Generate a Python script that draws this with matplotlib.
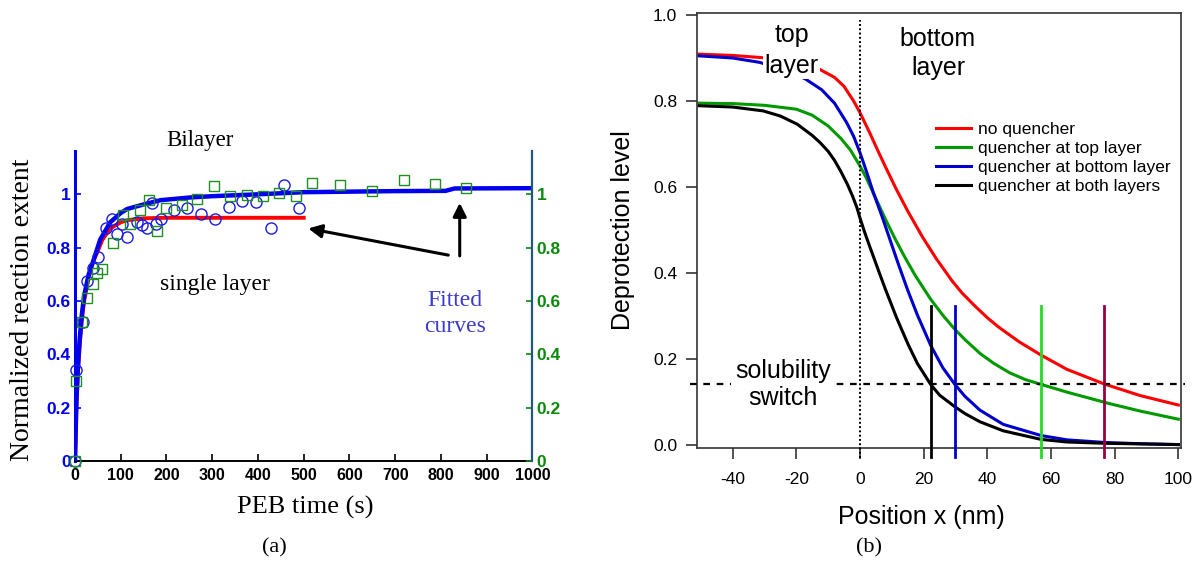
import matplotlib.pyplot as plt

plt.rcParams['axes.unicode_minus'] = False

# ---- panel (a): PEB time data ----
circ_t = [0, 3, 17, 27, 39, 50, 68, 81, 92, 103, 114, 136, 147, 158, 169, 176, 187,
          216, 245, 276, 305, 337, 366, 396, 429, 456, 489]
circ_y = [0, 0.343, 0.52, 0.674, 0.725, 0.765, 0.872, 0.907, 0.853, 0.89, 0.84, 0.897,
          0.884, 0.872, 0.966, 0.887, 0.909, 0.941, 0.947, 0.926, 0.907, 0.951, 0.976,
          0.972, 0.872, 1.035, 0.947]
sq_t = [0, 3, 15, 27, 39, 49, 59, 84, 106, 121, 143, 161, 180, 198, 233, 267, 304,
        339, 377, 410, 447, 483, 517, 579, 650, 719, 788, 855]
sq_y = [0, 0.30, 0.52, 0.61, 0.664, 0.706, 0.721, 0.818, 0.922, 0.887, 0.941, 0.979,
        0.861, 0.95, 0.96, 0.981, 1.031, 0.995, 0.997, 0.994, 1.006, 0.994, 1.042,
        1.034, 1.013, 1.052, 1.04, 1.025]
fit_bi_t = [0, 3, 6, 10, 15, 20, 30, 40, 55, 77, 100, 114, 150, 187, 250, 300, 400,
            500, 600, 700, 810, 830, 1000]
fit_bi_y = [0, 0.22, 0.34, 0.45, 0.55, 0.62, 0.70, 0.75, 0.83, 0.895, 0.93, 0.945,
            0.962, 0.978, 0.988, 0.993, 1.0, 1.008, 1.01, 1.012, 1.013, 1.022, 1.023]
fit_single_t = [0, 3, 6, 10, 15, 20, 30, 40, 48, 60, 77, 100, 114, 150, 200, 300, 500]
fit_single_y = [0, 0.2, 0.32, 0.43, 0.53, 0.6, 0.69, 0.75, 0.78, 0.83, 0.872, 0.895,
                0.903, 0.91, 0.912, 0.912, 0.912]
left_ticks = [0, 0.2, 0.4, 0.6, 0.8, 1]
left_tick_labels = ['0', '0.2', '0.4', '0.6', '0.8', '1']

# ---- panel (b): deprotection profiles ----
red_x = [-50.5, -40, -31, -22, -16, -12.5, -8, -5, -2, 0, 3, 5.4, 8, 11.4, 15, 19.7,
         24, 28.8, 32, 36, 40, 43.6, 50, 56.9, 65, 76.7, 88, 100]
red_y = [0.909, 0.906, 0.901, 0.893, 0.882, 0.873, 0.855, 0.834, 0.80, 0.773, 0.727,
         0.688, 0.647, 0.595, 0.544, 0.483, 0.433, 0.383, 0.354, 0.324, 0.296, 0.274,
         0.24, 0.209, 0.176, 0.142, 0.115, 0.093]
green_x = [-50.5, -40, -30, -20, -15, -10, -6, -3, 0, 2, 5, 8, 11, 14, 17.3, 22.2, 26,
           29.8, 33, 37.7, 42, 47, 52, 56.9, 65, 72, 78.5, 88, 100]
green_y = [0.795, 0.794, 0.79, 0.781, 0.767, 0.742, 0.713, 0.686, 0.649, 0.621, 0.573,
           0.525, 0.48, 0.438, 0.395, 0.339, 0.302, 0.269, 0.245, 0.213, 0.19, 0.168,
           0.152, 0.141, 0.123, 0.109, 0.096, 0.079, 0.060]
blue_x = [-50.5, -40, -31.6, -25, -17.3, -12, -8, -4.2, -2, 0, 2, 4.2, 7, 9.5, 12,
          15, 18, 22.2, 26, 29.8, 33, 37.7, 45, 56.9, 65, 76.7, 88, 100]
blue_y = [0.905, 0.90, 0.89, 0.875, 0.852, 0.826, 0.795, 0.75, 0.718, 0.68, 0.637,
          0.587, 0.53, 0.476, 0.422, 0.36, 0.303, 0.232, 0.18, 0.141, 0.113, 0.081,
          0.048, 0.022, 0.012, 0.006, 0.003, 0.001]
black_x = [-50.5, -40, -30.4, -25, -19.7, -15, -12.5, -10, -8, -6, -4, -2.4, -1, 0,
           1.5, 3, 5.8, 8, 11.5, 15, 18, 22.2, 25, 29.8, 33, 37.7, 45, 56.9, 65, 76.7,
           100]
black_y = [0.789, 0.786, 0.777, 0.765, 0.746, 0.72, 0.703, 0.683, 0.662, 0.636, 0.607,
           0.58, 0.553, 0.528, 0.494, 0.463, 0.406, 0.362, 0.296, 0.236, 0.19, 0.141,
           0.116, 0.089, 0.073, 0.054, 0.033, 0.013, 0.007, 0.004, 0.001]
switch_level = 0.141
switch_x = [22.2, 29.8, 56.9, 76.7]
switch_colors = ['black', '#0000cc', '#22dd22', '#990044']
labels = ['no quencher', 'quencher at top layer', 'quencher at bottom layer',
          'quencher at both layers']

fig = plt.figure(figsize=(11.96, 5.63), dpi=100)

# ================= left panel =================
serif = 'Liberation Serif'
sans = 'Liberation Sans'
ax1 = fig.add_axes([0.0627, 0.1812, 0.3825, 0.5511])
ax1.set_xlim(0, 1000)
ax1.set_ylim(0, 1.1635)
ax1.plot(fit_single_t, fit_single_y, color='#ff0000', lw=2.8, zorder=3)
ax1.plot(fit_bi_t, fit_bi_y, color='#0000ee', lw=3.2, zorder=4)
ax1.plot(circ_t, circ_y, 'o', mfc='none', mec='#1a1ae6', ms=8, mew=1.0, zorder=5,
         clip_on=False)
ax1.plot(sq_t, sq_y, 's', mfc='none', mec='#1f8f1f', ms=7.5, mew=1.0, zorder=5,
         clip_on=False)

ax1.spines['top'].set_visible(False)
ax1.spines['right'].set_visible(False)
ax1.spines['left'].set_color('#0000ee')
ax1.spines['left'].set_linewidth(2.2)
ax1.spines['bottom'].set_linewidth(1.4)
ax1.set_xticks(range(0, 1001, 100))
ax1.set_yticks(left_ticks)
ax1.set_yticklabels(left_tick_labels)
ax1.tick_params(axis='x', direction='in', length=5, width=1.2, pad=5, labelsize=11.5)
ax1.tick_params(axis='y', direction='in', length=4, width=1.2, colors='#0000ee',
                pad=3, labelsize=12.5)
for lab in ax1.get_xticklabels() + ax1.get_yticklabels():
    lab.set_fontfamily(sans)
    lab.set_fontweight('bold')

ax2 = ax1.twinx()
ax2.set_ylim(0, 1.1635)
ax2.set_yticks(left_ticks)
ax2.set_yticklabels(left_tick_labels)
for s in ['top', 'left', 'bottom']:
    ax2.spines[s].set_visible(False)
ax2.spines['right'].set_color('#1f5a7a')
ax2.spines['right'].set_linewidth(1.6)
ax2.tick_params(axis='y', direction='in', length=4, width=1.2, colors='#0a8a0a',
                pad=3, labelsize=12.5)
for lab in ax2.get_yticklabels():
    lab.set_fontfamily(sans)
    lab.set_fontweight('bold')

ax1.text(273, 1.20, 'Bilayer', family=serif, fontsize=16.5, ha='center', va='center',
         clip_on=False)
ax1.text(306, 0.662, 'single layer', family=serif, fontsize=17, ha='center',
         va='center')
ax1.text(830, 0.553, 'Fitted\ncurves', family=serif, fontsize=17, ha='center',
         va='center', color='#3c3ccc', linespacing=1.35)
ax1.annotate('', xy=(510, 0.872), xytext=(816, 0.772),
             arrowprops=dict(arrowstyle='-|>', lw=2.2, color='black',
                             mutation_scale=20, shrinkA=0, shrinkB=0))
ax1.annotate('', xy=(841, 0.968), xytext=(841, 0.769),
             arrowprops=dict(arrowstyle='-|>', lw=2.2, color='black',
                             mutation_scale=20, shrinkA=0, shrinkB=0))

fig.text(0.0185, 0.449, 'Normalized reaction extent', family=serif, fontsize=20,
         rotation=90, ha='center', va='center')
fig.text(0.255, 0.0995, 'PEB time (s)', family=serif, fontsize=19, ha='center',
         va='center')
fig.text(0.229, 0.0266, '(a)', family=serif, fontsize=16, ha='center', va='center')

# ================= right panel =================
ax = fig.add_axes([0.5825, 0.2037, 0.4047, 0.7727])
ax.set_xlim(-51.3, 100.75)
ax.set_ylim(-0.0077, 1.004)
ax.plot(red_x, red_y, color='#ff0000', lw=2.2, label=labels[0])
ax.plot(green_x, green_y, color='#009a00', lw=2.2, label=labels[1])
ax.plot(blue_x, blue_y, color='#0000cc', lw=2.2, label=labels[2])
ax.plot(black_x, black_y, color='black', lw=2.2, label=labels[3])

for xv, c in zip(switch_x, switch_colors):
    ax.plot([xv, xv], [-0.027, 0.324], color=c, lw=2.0, clip_on=False, zorder=4)
ax.plot([-53.4, 102.2], [switch_level, switch_level], color='black', lw=1.6,
        linestyle=(0, (3, 3)), clip_on=False, zorder=3)
ax.plot([0, 0], [-0.03, 0.989], color='black', lw=1.4, linestyle=(0, (1, 1.2)),
        clip_on=False, zorder=3)

for s in ax.spines.values():
    s.set_color('#333333')
    s.set_linewidth(1.2)
ax.set_xticks(range(-40, 101, 20))
ax.set_yticks([0, 0.2, 0.4, 0.6, 0.8, 1.0])
ax.set_yticklabels(['0.0', '0.2', '0.4', '0.6', '0.8', '1.0'])
ax.tick_params(direction='out', length=8, width=1.2, color='#333333', pad=6,
               labelsize=12.5)
ax.tick_params(axis='x', pad=9)
for lab in ax.get_xticklabels() + ax.get_yticklabels():
    lab.set_fontfamily(sans)

wbox = dict(facecolor='white', edgecolor='none', pad=1)
ax.text(-21.5, 0.954, 'top', family=sans, fontsize=18, ha='center', va='center')
ax.text(-21.5, 0.882, 'layer', family=sans, fontsize=18, ha='center', va='center',
        bbox=wbox, zorder=5)
ax.text(24.5, 0.944, 'bottom', family=sans, fontsize=18, ha='center', va='center')
ax.text(24.5, 0.877, 'layer', family=sans, fontsize=18, ha='center', va='center')
ax.text(-24.1, 0.140, 'solubility\nswitch', family=sans, fontsize=18, ha='center',
        va='center', linespacing=1.15, bbox=dict(facecolor='white', edgecolor='none',
                                                pad=3), zorder=5)

leg = ax.legend(loc='upper left', bbox_to_anchor=(0.7826, 0.783),
                bbox_transform=fig.transFigure, frameon=False, borderpad=0,
                borderaxespad=0, handlelength=2.0, handletextpad=0.4,
                labelspacing=0.21, prop={'family': sans, 'size': 12.5})
for line in leg.get_lines():
    line.set_linewidth(2.2)

fig.text(0.521, 0.5915, 'Deprotection level', family=sans, fontsize=18, rotation=90,
         ha='center', va='center')
fig.text(0.770, 0.0817, 'Position x (nm)', family=sans, fontsize=18, ha='center',
         va='center')
fig.text(0.7266, 0.0266, '(b)', family=serif, fontsize=16, ha='center', va='center')

fig.savefig('out.png', dpi=100)
